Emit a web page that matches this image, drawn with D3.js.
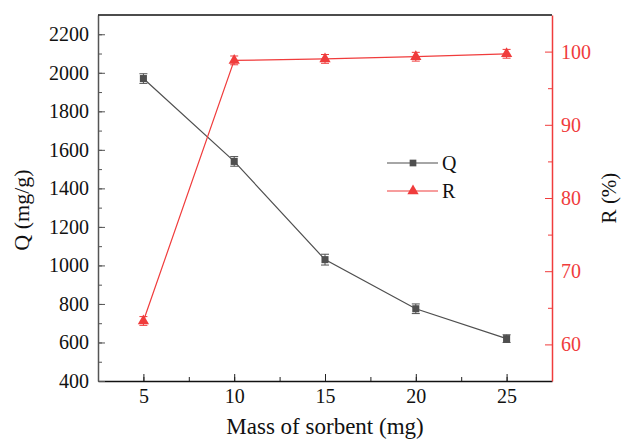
<!DOCTYPE html>
<html>
<head>
<meta charset="utf-8">
<script src="https://cdn.jsdelivr.net/npm/d3@7"></script>
<style>
  body { margin: 0; background: #fff; }
</style>
</head>
<body>
<div id="chart"></div>
<script>
// values
var mass = [5, 10, 15, 20, 25];
var qValues = [1970, 1540, 1030, 775, 620];
var qErrors = [25, 25, 28, 25, 20];
var rValues = [63.2, 98.8, 99.0, 99.3, 99.7];
var rErrors = [0.6, 0.6, 0.6, 0.6, 0.6];
var xTicks = [5, 10, 15, 20, 25];
var qTicks = [400, 600, 800, 1000, 1200, 1400, 1600, 1800, 2000, 2200];
var rTicks = [60, 70, 80, 90, 100];

var width = 623, height = 440;
var margin = {top: 15, right: 71, bottom: 59, left: 98};
var w = width - margin.left - margin.right,
    h = height - margin.top - margin.bottom;

var font = "'Liberation Serif', 'Times New Roman', serif";
var qColor = "#4f4f4f", rColor = "#f03c3c";

var svg = d3.select("#chart").append("svg")
    .attr("width", width)
    .attr("height", height)
    .style("font-family", font);
var g = svg.append("g").attr("transform", "translate(" + margin.left + "," + margin.top + ")");

var x = d3.scaleLinear().domain([2.5, 27.5]).range([0, w]);
var yQ = d3.scaleLinear().domain([400, 2300]).range([h, 0]);
var yR = d3.scaleLinear().domain([55, 105]).range([h, 0]);

function styleLabels(axisG, color) {
  axisG.attr("font-family", null);
  axisG.selectAll("text").attr("font-size", 20).attr("fill", color).style("font-family", font);
}

// bottom axis: minor then major
g.append("g").attr("transform", "translate(0," + h + ")")
  .call(d3.axisBottom(x).tickValues(d3.range(2.5, 27.6, 2.5)).tickSizeInner(-4).tickSizeOuter(0).tickFormat(""))
  .call(function(s) { s.select(".domain").remove(); s.selectAll("line").attr("stroke", "#222"); });
var xAxis = g.append("g").attr("transform", "translate(0," + h + ")")
  .call(d3.axisBottom(x).tickValues(xTicks).tickSizeInner(-7).tickSizeOuter(0).tickPadding(8).tickFormat(d3.format("d")));
xAxis.select(".domain").attr("stroke", "#111").attr("stroke-width", 1.5);
xAxis.selectAll("line").attr("stroke", "#222");
styleLabels(xAxis, "#111");

// left axis
g.append("g")
  .call(d3.axisLeft(yQ).tickValues(d3.range(500, 2300, 100)).tickSizeInner(-4).tickSizeOuter(0).tickFormat(""))
  .call(function(s) { s.select(".domain").remove(); s.selectAll("line").attr("stroke", "#555"); });
var qAxis = g.append("g")
  .call(d3.axisLeft(yQ).tickValues(qTicks).tickSizeInner(-7).tickSizeOuter(0).tickPadding(9).tickFormat(d3.format("d")));
qAxis.select(".domain").attr("stroke", "#555").attr("stroke-width", 1.5);
qAxis.selectAll("line").attr("stroke", "#555");
styleLabels(qAxis, "#111");

// top border
g.append("line").attr("x1", 0).attr("x2", w).attr("y1", 0).attr("y2", 0)
  .attr("stroke", "#111").attr("stroke-width", 1.5);

// right axis
g.append("g").attr("transform", "translate(" + w + ",0)")
  .call(d3.axisRight(yR).tickValues(d3.range(65, 105, 10)).tickSizeInner(-4).tickSizeOuter(0).tickFormat(""))
  .call(function(s) { s.select(".domain").remove(); s.selectAll("line").attr("stroke", rColor); });
var rAxis = g.append("g").attr("transform", "translate(" + w + ",0)")
  .call(d3.axisRight(yR).tickValues(rTicks).tickSizeInner(-7).tickSizeOuter(0).tickPadding(9).tickFormat(d3.format("d")));
rAxis.select(".domain").attr("stroke", rColor).attr("stroke-width", 1.5);
rAxis.selectAll("line").attr("stroke", rColor);
styleLabels(rAxis, rColor);

// axis titles
svg.append("text").attr("x", margin.left + w / 2).attr("y", 434)
  .attr("text-anchor", "middle").attr("font-size", 23).attr("fill", "#111")
  .text("Mass of sorbent (mg)");
svg.append("text").attr("transform", "translate(29,210) rotate(-90)")
  .attr("text-anchor", "middle").attr("font-size", 22).attr("fill", "#111")
  .text("Q (mg/g)");
svg.append("text").attr("transform", "translate(616," + (margin.top + h / 2) + ") rotate(-90)")
  .attr("text-anchor", "middle").attr("font-size", 21).attr("fill", "#111")
  .text("R (%)");

var qData = mass.map(function(m, i) { return {x: m, y: qValues[i], e: qErrors[i]}; });
var rData = mass.map(function(m, i) { return {x: m, y: rValues[i], e: rErrors[i]}; });

function drawSeries(data, yScale, color, symbol, size) {
  g.append("path").datum(data)
    .attr("fill", "none").attr("stroke", color).attr("stroke-width", 1.2)
    .attr("d", d3.line().x(function(d) { return x(d.x); }).y(function(d) { return yScale(d.y); }));
  var eb = g.append("g").selectAll("g").data(data).enter().append("g").attr("stroke", color).attr("stroke-width", 1);
  eb.append("line")
    .attr("x1", function(d) { return x(d.x); }).attr("x2", function(d) { return x(d.x); })
    .attr("y1", function(d) { return yScale(d.y - d.e); }).attr("y2", function(d) { return yScale(d.y + d.e); });
  [-1, 1].forEach(function(sgn) {
    eb.append("line")
      .attr("x1", function(d) { return x(d.x) - 4; }).attr("x2", function(d) { return x(d.x) + 4; })
      .attr("y1", function(d) { return yScale(d.y + sgn * d.e); }).attr("y2", function(d) { return yScale(d.y + sgn * d.e); });
  });
  g.append("g").selectAll("path").data(data).enter().append("path")
    .attr("d", d3.symbol().type(symbol).size(size))
    .attr("transform", function(d) { return "translate(" + x(d.x) + "," + yScale(d.y) + ")"; })
    .attr("fill", color);
}

drawSeries(qData, yQ, qColor, d3.symbolSquare, 50);
drawSeries(rData, yR, rColor, d3.symbolTriangle, 55);

// legend
var legend = g.append("g").attr("transform", "translate(289,148)");
var legendItems = [
  {name: "Q", color: qColor, symbol: d3.symbolSquare, size: 45},
  {name: "R", color: rColor, symbol: d3.symbolTriangle, size: 55}
];
legendItems.forEach(function(it, i) {
  var row = legend.append("g").attr("transform", "translate(0," + (i * 28) + ")");
  row.append("line").attr("x1", 0).attr("x2", 51).attr("stroke", it.color).attr("stroke-width", 1.2);
  row.append("path").attr("d", d3.symbol().type(it.symbol).size(it.size)).attr("transform", "translate(26,0)").attr("fill", it.color);
  row.append("text").attr("x", 55).attr("y", 7).attr("font-size", 20).attr("fill", "#111").text(it.name);
});
</script>
</body>
</html>
